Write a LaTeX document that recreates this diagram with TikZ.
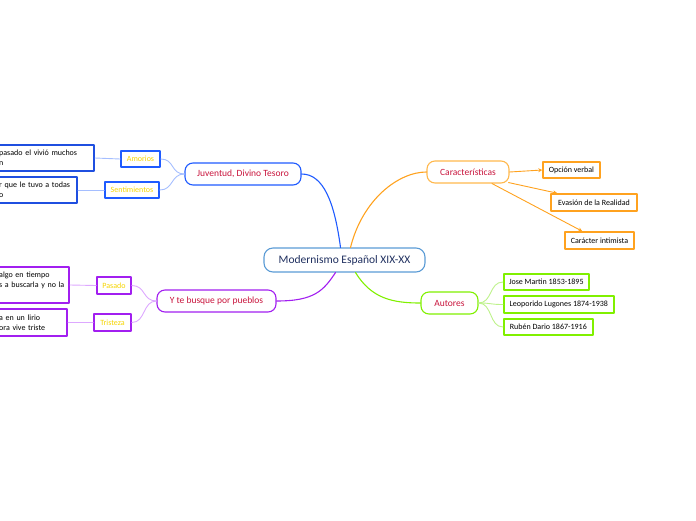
\documentclass[tikz,border=0pt]{standalone}
\usepackage{fontspec}
\setmainfont{Carlito}
\usetikzlibrary{calc,arrows.meta}

\definecolor{rootline}{HTML}{5B9BD5}
\definecolor{roottext}{HTML}{1F2F5F}
\definecolor{nodetext}{HTML}{C8143C}
\definecolor{juvblue}{HTML}{1F5BFF}
\definecolor{juvlight}{HTML}{A5BEFF}
\definecolor{leafblue}{HTML}{1F4FE0}
\definecolor{buspurple}{HTML}{A21FF0}
\definecolor{buslight}{HTML}{DDA8FF}
\definecolor{carorange}{HTML}{FFA21F}
\definecolor{carlight}{HTML}{FFB84D}
\definecolor{autgreen}{HTML}{80F000}
\definecolor{autlight}{HTML}{BDF28A}
\definecolor{subyellow}{HTML}{F5D400}

\begin{document}
\begin{tikzpicture}[x=1pt, y=-1pt, line cap=round, line join=round,
    font=\fontsize{8}{10}\selectfont,
    topic/.style={draw=#1, line width=1.1pt, rounded corners=8pt, text=nodetext,
        font=\fontsize{9.5}{11}\selectfont, minimum height=22pt},
    sub/.style={draw=#1, line width=1.6pt, text=subyellow, minimum height=16pt, inner xsep=2pt},
    leaf/.style={draw=#1, line width=1.6pt, text=black, align=left, anchor=east, inner xsep=4pt},
    item/.style={draw=#1, line width=1.6pt, text=black, minimum height=16pt, inner xsep=2pt}
]
    \useasboundingbox (0,0) rectangle (696,520);

    % --- 1. Central topic ---
    \node[draw=rootline, line width=1.1pt, rounded corners=9pt, minimum width=161pt,
        minimum height=24pt, text=roottext, font=\fontsize{11.5}{13}\selectfont]
        (root) at (344.5,260) {Modernismo Español XIX-XX};

    % --- 2. Juventud, Divino Tesoro (blue) ---
    \node[topic=juvblue, minimum width=116pt] (juv) at (243,174) {Juventud, Divino Tesoro};
    \node[sub=juvblue, minimum width=39pt] (amo) at (140.5,159) {Amorios};
    \node[sub=juvblue, minimum width=54pt] (sen) at (132,190) {Sentimientos};
    \node[leaf=leafblue, text width=91pt, minimum height=26pt] (amoleaf) at (95,158)
        {pasado el vivió muchos\\n};
    \node[leaf=leafblue, text width=74pt, minimum height=26pt] (senleaf) at (78,190)
        {r que le tuvo a todas\\o};

    \draw[juvblue, line width=1.1pt] (juv.east) .. controls +(22,0) and +(-6,-45) .. ($(root.north)+(-4,0)$);
    \draw[juvlight, line width=0.9pt] (juv.west) .. controls +(-14,0) and +(14,0) .. (amo.east);
    \draw[juvlight, line width=0.9pt] (juv.west) .. controls +(-14,0) and +(14,0) .. (sen.east);
    \draw[juvlight, line width=0.9pt] (amo.west) -- (amoleaf.east);
    \draw[juvlight, line width=0.9pt] (sen.west) -- (senleaf.east);

    % --- 3. Y te busque por pueblos (purple) ---
    \node[topic=buspurple, minimum width=119pt] (busq) at (216.5,301) {Y te busque por pueblos};
    \node[sub=buspurple, minimum width=34pt, minimum height=17pt] (pas) at (114,285.5) {Pasado};
    \node[sub=buspurple, minimum width=37pt, minimum height=17pt] (tri) at (112.5,322.5) {Tristeza};
    \node[leaf=buspurple, text width=66pt, minimum height=36pt] (pasleaf) at (70,285)
        {algo en tiempo\\s a buscarla y no la\\\mbox{}};
    \node[leaf=buspurple, text width=64pt, minimum height=27pt] (trileaf) at (68,322.5)
        {a en un lirio\\ora vive triste};

    \draw[buspurple, line width=1.1pt] (busq.east) .. controls +(38,0) and +(-12,18) .. ($(root.south)+(-9,0)$);
    \draw[buslight, line width=0.9pt] (busq.west) .. controls +(-14,0) and +(14,0) .. (pas.east);
    \draw[buslight, line width=0.9pt] (busq.west) .. controls +(-14,0) and +(14,0) .. (tri.east);
    \draw[buslight, line width=0.9pt] (pas.west) -- (pasleaf.east);
    \draw[buslight, line width=0.9pt] (tri.west) -- (trileaf.east);

    % --- 4. Caracteristicas (orange) ---
    \node[topic=carlight, minimum width=82pt] (car) at (468,172) {Características};
    \node[item=carorange, minimum width=57pt] (opc) at (571.5,170) {Opción verbal};
    \node[item=carorange, minimum width=86pt, minimum height=17pt] (eva) at (594,202.5) {Evasión de la Realidad};
    \node[item=carorange, minimum width=69pt, minimum height=17pt] (cart) at (599.5,240.5) {Carácter intimista};

    \draw[carorange, line width=1.1pt] ($(root.north)+(6,0)$) .. controls +(12,-48) and +(-28,0) .. (car.west);
    \draw[carorange, line width=0.9pt, -{Stealth[length=4pt,width=4pt]}] (car.east) -- (opc.west);
    \draw[carorange, line width=0.9pt, -{Stealth[length=4pt,width=4pt]}] ($(car.south east)+(-1,-1)$) -- ($(eva.north west)+(7,0)$);
    \draw[carorange, line width=0.9pt, -{Stealth[length=4pt,width=4pt]}] ($(car.south)+(24,0)$) -- ($(cart.north west)+(18,0)$);

    % --- 5. Autores (green) ---
    \node[topic=autgreen, minimum width=57pt] (aut) at (449.5,303) {Autores};
    \node[item=autgreen, minimum width=85pt, anchor=west] (jose) at (503,282) {Jose Martin 1853-1895};
    \node[item=autgreen, minimum width=110pt, minimum height=17pt, anchor=west] (leop) at (503,304.5) {Leoporido Lugones 1874-1938};
    \node[item=autgreen, minimum width=89pt, anchor=west] (rub) at (503,327) {Rubén Dario 1867-1916};

    \draw[autgreen, line width=1.1pt] ($(root.south)+(11,0)$) .. controls +(16,26) and +(-28,0) .. (aut.west);
    \draw[autlight, line width=0.9pt] (aut.east) .. controls +(14,0) and +(-14,0) .. (jose.west);
    \draw[autlight, line width=0.9pt] (aut.east) .. controls +(14,0) and +(-14,0) .. (leop.west);
    \draw[autlight, line width=0.9pt] (aut.east) .. controls +(14,0) and +(-14,0) .. (rub.west);
\end{tikzpicture}
\end{document}
